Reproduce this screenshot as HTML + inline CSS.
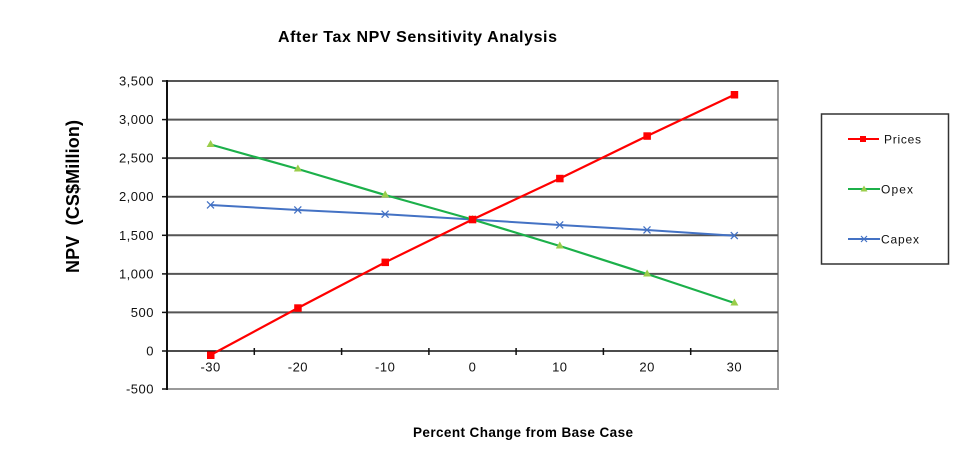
<!DOCTYPE html>
<html><head><meta charset="utf-8"><style>
html,body{margin:0;padding:0;background:#fff;}
svg{display:block;font-family:"Liberation Sans",Arial,sans-serif;}
</style></head><body>
<svg width="980" height="473" viewBox="0 0 980 473" xmlns="http://www.w3.org/2000/svg">
<rect width="980" height="473" fill="#fff"/>
<text x="278" y="42" font-size="16" font-weight="bold" textLength="279" lengthAdjust="spacing" fill="#000">After Tax NPV Sensitivity Analysis</text>
<!-- plot border -->
<rect x="167" y="81" width="611" height="308" fill="none" stroke="#9a9a9a" stroke-width="2"/>
<!-- gridlines -->
<g stroke="#555" stroke-width="2">
<line x1="167" y1="81" x2="778" y2="81"/>
<line x1="167" y1="119.6" x2="778" y2="119.6"/>
<line x1="167" y1="158.1" x2="778" y2="158.1"/>
<line x1="167" y1="196.7" x2="778" y2="196.7"/>
<line x1="167" y1="235.3" x2="778" y2="235.3"/>
<line x1="167" y1="273.9" x2="778" y2="273.9"/>
<line x1="167" y1="312.4" x2="778" y2="312.4"/>
</g>
<!-- zero axis -->
<line x1="167" y1="351" x2="778" y2="351" stroke="#111" stroke-width="1.5"/>
<g stroke="#111" stroke-width="1.5">
<line x1="254.3" y1="348" x2="254.3" y2="355"/>
<line x1="341.6" y1="348" x2="341.6" y2="355"/>
<line x1="428.9" y1="348" x2="428.9" y2="355"/>
<line x1="516.1" y1="348" x2="516.1" y2="355"/>
<line x1="603.4" y1="348" x2="603.4" y2="355"/>
<line x1="690.7" y1="348" x2="690.7" y2="355"/>
</g>
<!-- y axis -->
<line x1="167" y1="80" x2="167" y2="390" stroke="#111" stroke-width="2"/>
<g stroke="#111" stroke-width="1.5">
<line x1="162" y1="81" x2="167" y2="81"/><line x1="162" y1="119.6" x2="167" y2="119.6"/>
<line x1="162" y1="158.1" x2="167" y2="158.1"/><line x1="162" y1="196.7" x2="167" y2="196.7"/>
<line x1="162" y1="235.3" x2="167" y2="235.3"/><line x1="162" y1="273.9" x2="167" y2="273.9"/>
<line x1="162" y1="312.4" x2="167" y2="312.4"/><line x1="162" y1="351" x2="167" y2="351"/>
<line x1="162" y1="389" x2="167" y2="389"/>
</g>
<g font-size="13" letter-spacing="0.5" text-anchor="end" fill="#111">
<text x="154" y="85.5">3,500</text>
<text x="154" y="124.1">3,000</text>
<text x="154" y="162.6">2,500</text>
<text x="154" y="201.2">2,000</text>
<text x="154" y="239.8">1,500</text>
<text x="154" y="278.4">1,000</text>
<text x="154" y="316.9">500</text>
<text x="154" y="355.5">0</text>
<text x="154" y="393.5">-500</text>
</g>
<g font-size="13" letter-spacing="0.5" text-anchor="middle" fill="#111">
<text x="210.6" y="371.5">-30</text>
<text x="297.9" y="371.5">-20</text>
<text x="385.2" y="371.5">-10</text>
<text x="472.5" y="371.5">0</text>
<text x="559.8" y="371.5">10</text>
<text x="647.1" y="371.5">20</text>
<text x="734.4" y="371.5">30</text>
</g>
<text x="413" y="437" font-size="13.5" font-weight="bold" textLength="220" lengthAdjust="spacing" fill="#000">Percent Change from Base Case</text>
<text transform="translate(79,273) rotate(-90)" font-size="18" font-weight="bold" textLength="153" lengthAdjust="spacing" fill="#000" xml:space="preserve">NPV  (CS$Million)</text>
<!-- Capex -->
<polyline fill="none" stroke="#4472c4" stroke-width="2" points="210.6,205 297.9,210 385.2,214.3 472.5,219.5 559.8,225 647.1,230 734.4,235.7"/>
<g stroke="#4472c4" stroke-width="1.3">
<path d="M207,201.4l7,7M214,201.4l-7,7"/>
<path d="M294.3,206.4l7,7M301.3,206.4l-7,7"/>
<path d="M381.6,210.7l7,7M388.6,210.7l-7,7"/>
<path d="M468.9,215.9l7,7M475.9,215.9l-7,7"/>
<path d="M556.2,221.4l7,7M563.2,221.4l-7,7"/>
<path d="M643.5,226.4l7,7M650.5,226.4l-7,7"/>
<path d="M730.8,232.1l7,7M737.8,232.1l-7,7"/>
</g>
<!-- Opex -->
<polyline fill="none" stroke="#1cb04a" stroke-width="2.2" points="210.6,144.5 297.9,169 385.2,195 472.5,219.5 559.8,246 647.1,274 734.4,303"/>
<g fill="#9acd4a">
<path d="M210.6,140l4,7h-8z"/>
<path d="M297.9,164.5l4,7h-8z"/>
<path d="M385.2,190.5l4,7h-8z"/>
<path d="M472.5,215l4,7h-8z"/>
<path d="M559.8,241.5l4,7h-8z"/>
<path d="M647.1,269.5l4,7h-8z"/>
<path d="M734.4,298.5l4,7h-8z"/>
</g>
<!-- Prices -->
<polyline fill="none" stroke="#ff0000" stroke-width="2.2" points="210.6,355 297.9,308 385.2,262.3 472.5,219.5 559.8,178.5 647.1,136 734.4,94.7"/>
<g fill="#ff0000">
<rect x="207" y="351.5" width="7.5" height="7.5"/>
<rect x="294.2" y="304.3" width="7.5" height="7.5"/>
<rect x="381.5" y="258.6" width="7.5" height="7.5"/>
<rect x="468.8" y="215.8" width="7.5" height="7.5"/>
<rect x="556.1" y="174.8" width="7.5" height="7.5"/>
<rect x="643.4" y="132.3" width="7.5" height="7.5"/>
<rect x="730.7" y="91" width="7.5" height="7.5"/>
</g>
<!-- legend -->
<rect x="821.5" y="114" width="127" height="150" fill="#fff" stroke="#333" stroke-width="1.5"/>
<line x1="848" y1="139" x2="879" y2="139" stroke="#ff0000" stroke-width="2"/>
<rect x="860" y="136" width="6" height="6" fill="#ff0000"/>
<text x="884" y="143.5" font-size="12" textLength="37" lengthAdjust="spacing" fill="#111">Prices</text>
<line x1="848" y1="189" x2="880" y2="189" stroke="#1cb04a" stroke-width="2"/>
<path d="M864,185.5l3.5,6h-7z" fill="#9acd4a"/>
<text x="881" y="193.5" font-size="12" textLength="32" lengthAdjust="spacing" fill="#111">Opex</text>
<line x1="848" y1="239" x2="880" y2="239" stroke="#4472c4" stroke-width="2"/>
<path d="M861,236l6,6M867,236l-6,6" stroke="#4472c4" stroke-width="1.2"/>
<text x="881" y="243.5" font-size="12" textLength="38" lengthAdjust="spacing" fill="#111">Capex</text>
</svg>
</body></html>
